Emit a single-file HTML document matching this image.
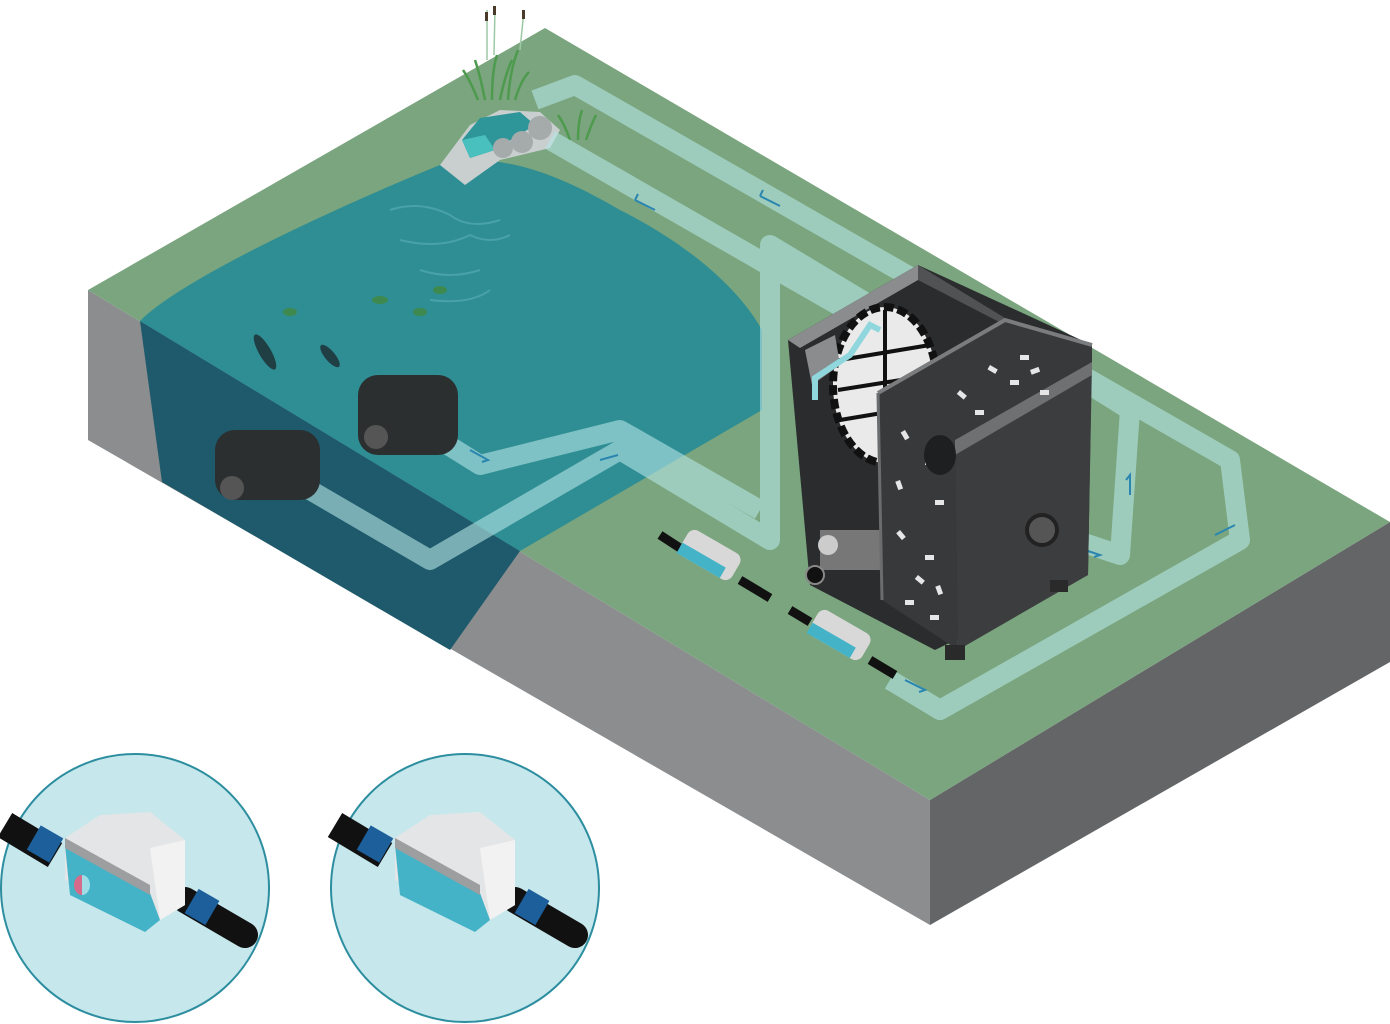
<!DOCTYPE html>
<html><head><meta charset="utf-8"><style>
html,body{margin:0;padding:0;background:#fff;}
svg{display:block;}
</style></head><body>
<svg width="1390" height="1024" viewBox="0 0 1390 1024" xmlns="http://www.w3.org/2000/svg">
<polygon points="88,290 930,800 930,925 88,440" fill="#8b8d8f"/>
<polygon points="930,800 1390,522 1390,662 930,925" fill="#636567"/>
<polygon points="88,290 545,28 1390,522 930,800" fill="#7aa57e"/>
<polygon points="140,321 520,551 450,650 162,482" fill="#1e5a6b"/>
<path d="M140,321 C180,280 330,210 440,165 C500,150 560,175 620,210 C690,245 740,290 762,330 L762,410 L520,551 Z" fill="#2e8e94"/>
<g stroke="#4fa8ab" stroke-width="2" fill="none" opacity="0.8">
<path d="M390,210 q30,-10 60,5 q20,15 50,5 M400,240 q40,10 70,-5 q20,10 40,0 M420,270 q30,10 60,0 M430,300 q40,5 60,-10"/>
</g>
<g stroke="#4e9a4e" stroke-width="2.5" fill="none">
<path d="M485,100 q-5,-25 -10,-40 M492,100 q0,-30 5,-45 M500,100 q5,-25 12,-40 M508,100 q2,-30 10,-50 M478,100 q-8,-20 -15,-30 M515,100 q6,-20 14,-28"/>
<path d="M570,140 q-5,-15 -12,-25 M578,140 q0,-18 4,-30 M586,140 q5,-15 10,-25"/>
</g>
<g stroke="#9cc9a4" stroke-width="1.5"><line x1="487" y1="60" x2="487" y2="10"/><line x1="494" y1="55" x2="495" y2="8"/><line x1="520" y1="50" x2="524" y2="10"/></g>
<g fill="#4a3a2a"><rect x="485" y="12" width="3" height="9"/><rect x="493" y="6" width="3" height="9"/><rect x="522" y="10" width="3" height="9"/></g>
<path d="M440,165 L470,125 L500,110 L540,112 L560,130 L550,148 L500,160 L465,185 Z" fill="#c9cfcf"/>
<polygon points="462,140 480,118 520,112 535,125 495,150 470,158" fill="#2e9599"/>
<polygon points="462,140 470,158 495,150 485,135" fill="#49bfbe"/>
<g fill="#a5aaab"><circle cx="540" cy="128" r="12"/><circle cx="522" cy="142" r="11"/><circle cx="503" cy="148" r="10"/></g>
<g fill="none" stroke="#b6e6e6" stroke-width="20" opacity="0.6" stroke-linejoin="round">
<path d="M535,100 L575,85 L1230,460 L1240,540 L940,710 L890,680"/>
<path d="M550,140 L890,335"/>
<path d="M310,490 L430,560 L620,450 L770,540 L770,245 L895,320"/>
<path d="M440,440 L480,465 L620,430 L760,510"/>
<path d="M1060,535 L1120,555 L1130,410 L1090,385"/>
</g>
<g stroke="#2a86b0" stroke-width="2" fill="none">
<path d="M635,200 l20,10 M635,200 l3,-6"/><path d="M760,196 l20,10 M760,196 l3,-6"/>
<path d="M470,450 l18,10 l-6,2"/><path d="M600,460 l18,-5"/><path d="M905,680 l20,10 l-6,2"/>
<path d="M1070,545 l30,10 l-6,2"/><path d="M1130,495 v-20 l-4,5"/><path d="M1215,535 l20,-10"/>
</g>
<g fill="#2c2f30">
<rect x="215" y="430" width="105" height="70" rx="20"/>
<rect x="358" y="375" width="100" height="80" rx="20"/>
<circle cx="232" cy="488" r="12" fill="#555"/><circle cx="376" cy="437" r="12" fill="#555"/>
</g>
<g fill="#1f3f45"><ellipse cx="265" cy="352" rx="6" ry="20" transform="rotate(-30 265 352)"/><ellipse cx="330" cy="356" rx="5" ry="14" transform="rotate(-40 330 356)"/></g>
<g fill="#3e8a4e"><ellipse cx="380" cy="300" rx="8" ry="4"/><ellipse cx="420" cy="312" rx="7" ry="4"/><ellipse cx="290" cy="312" rx="7" ry="4"/><ellipse cx="440" cy="290" rx="7" ry="4"/></g>
<!-- filter box -->
<polygon points="788,340 918,265 1092,345 1088,575 935,650 810,585" fill="#2a2c2e"/>
<polygon points="918,265 1005,318 1005,325 918,280" fill="#505254"/>
<polygon points="788,340 918,265 918,280 800,348" fill="#8a8c8e"/>
<ellipse cx="885" cy="385" rx="52" ry="78" fill="#eaeaea" stroke="#111" stroke-width="8" stroke-dasharray="10 4"/>
<g stroke="#111" stroke-width="4"><line x1="840" y1="360" x2="930" y2="345"/><line x1="838" y1="390" x2="932" y2="375"/><line x1="840" y1="420" x2="930" y2="405"/><line x1="885" y1="310" x2="885" y2="460"/></g>
<polygon points="805,350 835,335 840,365 812,385" fill="#8a8c8e"/>
<path d="M815,400 L815,378 L850,355 L870,325 L880,330" stroke="#8fd7dc" stroke-width="6" fill="none"/>
<rect x="820" y="530" width="60" height="40" fill="#777"/>
<circle cx="828" cy="545" r="10" fill="#ccc"/><circle cx="815" cy="575" r="9" fill="#111" stroke="#888" stroke-width="2"/>
<!-- divider + right compartment -->
<polygon points="878,393 1005,320 1092,345 1092,362 955,440 958,650 882,600" fill="#38393b"/>
<polyline points="878,393 1005,320 1092,345" fill="none" stroke="#7a7c7e" stroke-width="4"/>
<line x1="878" y1="393" x2="882" y2="600" stroke="#6a6c6e" stroke-width="3"/>
<polygon points="955,440 1092,362 1088,575 958,650" fill="#3c3d3f"/>
<polygon points="955,440 1092,362 1092,375 955,455" fill="#6e7072"/>
<rect x="945" y="645" width="20" height="15" fill="#2a2a2a"/><rect x="1050" y="580" width="18" height="12" fill="#2a2a2a"/>
<g fill="#e6e6e6">
<rect x="990" y="365" width="9" height="5" transform="rotate(30 990 365)"/><rect x="1010" y="380" width="9" height="5"/><rect x="1030" y="370" width="9" height="5" transform="rotate(-20 1030 370)"/><rect x="960" y="390" width="9" height="5" transform="rotate(40 960 390)"/><rect x="1040" y="390" width="9" height="5"/><rect x="975" y="410" width="9" height="5"/><rect x="1020" y="355" width="9" height="5"/>
<rect x="905" y="430" width="9" height="5" transform="rotate(60 905 430)"/><rect x="925" y="460" width="9" height="5"/><rect x="900" y="480" width="9" height="5" transform="rotate(70 900 480)"/><rect x="935" y="500" width="9" height="5"/><rect x="900" y="530" width="9" height="5" transform="rotate(50 900 530)"/><rect x="925" y="555" width="9" height="5"/><rect x="940" y="585" width="9" height="5" transform="rotate(70 940 585)"/><rect x="905" y="600" width="9" height="5"/><rect x="930" y="615" width="9" height="5"/><rect x="918" y="575" width="9" height="5" transform="rotate(40 918 575)"/>
</g>
<ellipse cx="940" cy="455" rx="16" ry="20" fill="#1d1f20"/>
<circle cx="1042" cy="530" r="15" fill="#555" stroke="#222" stroke-width="4"/>
<!-- inline devices -->
<g stroke="#111" stroke-width="9"><line x1="660" y1="535" x2="680" y2="548"/><line x1="740" y1="580" x2="770" y2="598"/><line x1="790" y1="610" x2="810" y2="622"/><line x1="870" y1="660" x2="895" y2="675"/></g>
<g transform="rotate(30 710 555)"><rect x="680" y="540" width="60" height="30" rx="8" fill="#d8d8d8"/><rect x="680" y="558" width="50" height="12" fill="#45b3c7"/></g>
<g transform="rotate(30 840 635)"><rect x="810" y="620" width="60" height="30" rx="8" fill="#d8d8d8"/><rect x="810" y="638" width="50" height="12" fill="#45b3c7"/></g>
<circle cx="135" cy="888" r="134" fill="#c6e7ec" stroke="#2d8ea0" stroke-width="2"/>
<circle cx="465" cy="888" r="134" fill="#c6e7ec" stroke="#2d8ea0" stroke-width="2"/>
<g id="dev">
<path d="M5,825 L55,855" stroke="#111" stroke-width="28" stroke-linecap="butt"/>
<path d="M185,900 L245,935" stroke="#111" stroke-width="26" stroke-linecap="round"/>
<rect x="32" y="830" width="26" height="28" fill="#1d5f9a" transform="rotate(30 45 844)"/>
<rect x="190" y="893" width="24" height="28" fill="#1d5f9a" transform="rotate(30 202 907)"/>
<path d="M65,838 L100,815 L150,812 L185,840 L185,905 L160,920 L65,880 Z" fill="#e4e5e6"/>
<path d="M65,845 L150,893 L160,920 L145,932 L70,895 Z" fill="#45b3c7"/>
<path d="M65,838 L150,885 L150,895 L65,848 Z" fill="#9c9ea0"/>
<path d="M150,848 L185,840 L185,905 L160,920 Z" fill="#f2f2f2"/>
</g>
<use href="#dev" transform="translate(330,0)"/>
<path d="M82,875 a8,10 0 0,0 0,20 Z" fill="#d56a8a"/><path d="M82,875 a8,10 0 0,1 0,20 Z" fill="#9fdde6"/>
</svg>
</body></html>
